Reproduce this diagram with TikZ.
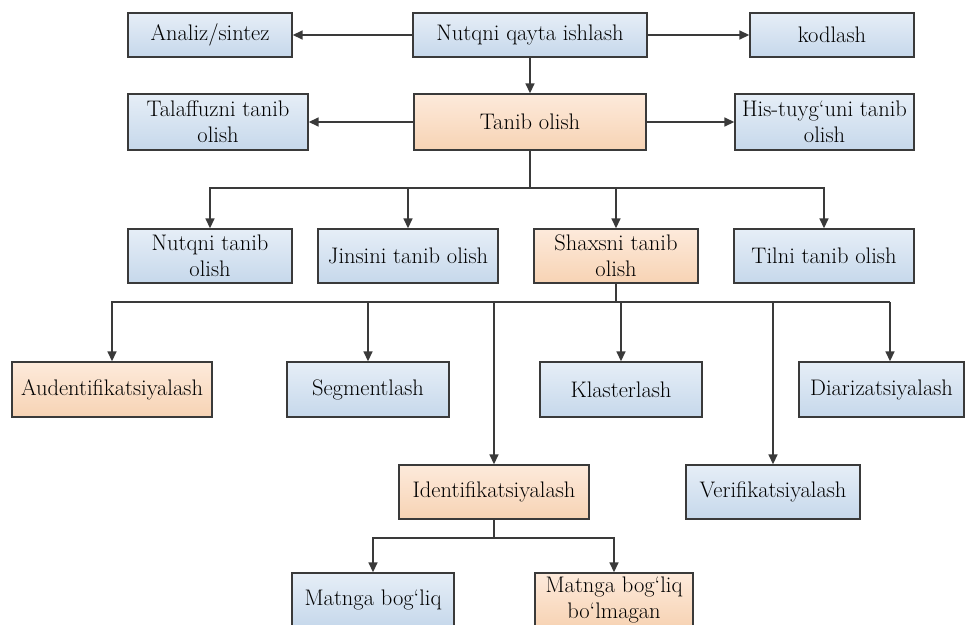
\documentclass[tikz,border=0pt]{standalone}
\usetikzlibrary{arrows.meta}
\definecolor{edge}{HTML}{3A3A3A}
\definecolor{blueTop}{HTML}{E6EEF7}
\definecolor{blueBot}{HTML}{C6D8EB}
\definecolor{peachTop}{HTML}{FDEADB}
\definecolor{peachBot}{HTML}{F7D3B4}
\tikzset{
  box/.style={draw=edge, line width=1.4pt, rectangle, inner sep=0pt, align=center,
    font=\fontsize{22.5}{26}\selectfont, text=black},
  bluebox/.style={box, top color=blueTop, bottom color=blueBot},
  peachbox/.style={box, top color=peachTop, bottom color=peachBot},
  conn/.style={draw=edge, line width=1.6pt},
  arr/.style={conn, -{Triangle[length=10pt,width=9pt]}},
}
\begin{document}
\begin{tikzpicture}[x=1pt, y=-1pt]
\useasboundingbox (0,0) rectangle (966,624);
\clip (0,0) rectangle (966,624);

% top row
\node[bluebox, minimum width=164pt, minimum height=44pt] (ana) at (210,35) {Analiz/sintez};
\node[bluebox, minimum width=234pt, minimum height=44pt] (nqi) at (530,35) {Nutqni qayta ishlash};
\node[bluebox, minimum width=164pt, minimum height=44pt] (kod) at (832,35) {kodlash};

% recognition row
\node[bluebox, minimum width=180pt, minimum height=56pt] (tal) at (218,122) {Talaffuzni tanib\\olish};
\node[peachbox, minimum width=232pt, minimum height=56pt] (tan) at (530,122) {Tanib olish};
\node[bluebox, minimum width=179pt, minimum height=56pt] (his) at (824.5,122) {His-tuyg`uni tanib\\olish};

% kinds of recognition
\node[bluebox, minimum width=164pt, minimum height=54pt] (nut) at (210,256) {Nutqni tanib\\olish};
\node[bluebox, minimum width=180pt, minimum height=54pt] (jin) at (408,256) {Jinsini tanib olish};
\node[peachbox, minimum width=164pt, minimum height=54pt] (sha) at (616,256) {Shaxsni tanib\\olish};
\node[bluebox, minimum width=180pt, minimum height=54pt] (til) at (824,256) {Tilni tanib olish};

% speaker tasks
\node[peachbox, minimum width=200pt, minimum height=55pt] (aud) at (112,389.5) {Audentifikatsiyalash};
\node[bluebox, minimum width=162pt, minimum height=55pt] (seg) at (368,389.5) {Segmentlash};
\node[bluebox, minimum width=162pt, minimum height=55pt] (kla) at (621,389.5) {Klasterlash};
\node[bluebox, minimum width=165pt, minimum height=55pt] (dia) at (881.5,389.5) {Diarizatsiyalash};
\node[peachbox, minimum width=190pt, minimum height=54pt] (ide) at (494,492) {Identifikatsiyalash};
\node[bluebox, minimum width=174pt, minimum height=54pt] (ver) at (773,492) {Verifikatsiyalash};

% identification kinds
\node[bluebox, minimum width=162pt, minimum height=54pt] (mb) at (373,600) {Matnga bog`liq};
\node[peachbox, minimum width=158pt, minimum height=54pt] (mbb) at (614,600) {Matnga bog`liq\\bo`lmagan};

% connectors, top
\draw[arr] (nqi) -- (ana);
\draw[arr] (nqi) -- (kod);
\draw[arr] (nqi) -- (tan);
\draw[arr] (tan) -- (tal);
\draw[arr] (tan) -- (his);

% bus below "Tanib olish"
\coordinate (b1) at (530,188);
\draw[conn] (tan.south) -- (b1);
\draw[arr] (b1) -| (nut.north);
\draw[arr] (b1) -| (jin.north);
\draw[arr] (b1) -| (sha.north);
\draw[arr] (b1) -| (til.north);

% bus below "Shaxsni tanib olish"
\coordinate (b2) at (616,302);
\coordinate (d2) at (890,302);
\draw[conn] (sha.south) -- (b2);
\draw[arr] (b2) -| (aud.north);
\draw[arr] (b2) -| (seg.north);
\draw[arr] (b2) -| (ide.north);
\draw[arr] (b2) -| (kla.north);
\draw[arr] (b2) -| (ver.north);
\draw[conn] (b2) -- (d2);
\draw[arr] (d2) -- (d2 |- dia.north);

% bus below "Identifikatsiyalash"
\coordinate (b3) at (494,538);
\draw[conn] (ide.south) -- (b3);
\draw[arr] (b3) -| (mb.north);
\draw[arr] (b3) -| (mbb.north);
\end{tikzpicture}
\end{document}
